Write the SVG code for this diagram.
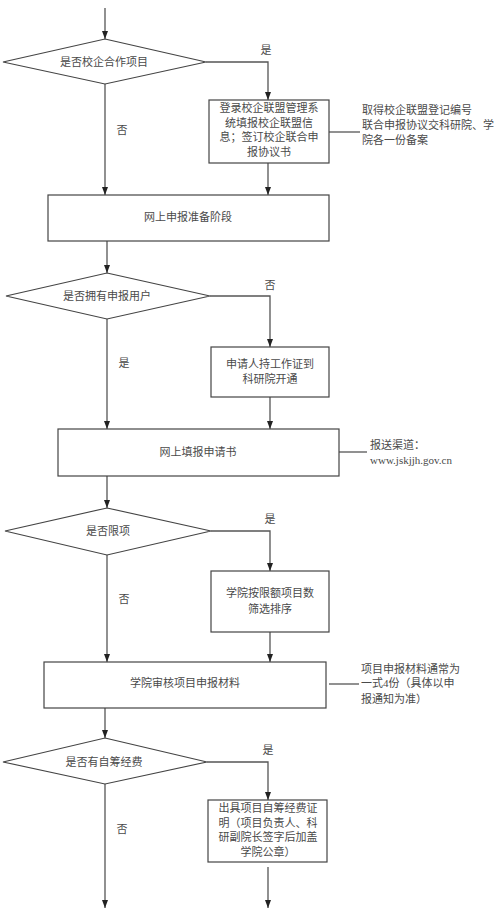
<svg xmlns="http://www.w3.org/2000/svg" width="502" height="920" viewBox="0 0 502 920">
<style>
.shape{fill:#fff;stroke:#444;stroke-width:1.2}
.conn{fill:none;stroke:#555;stroke-width:1.3}
text{font-family:"Liberation Serif","Noto Sans CJK SC",serif;font-size:11px;fill:#4a4a4a}
.c{text-anchor:middle}
</style>
<defs>
<marker id="arr" markerUnits="userSpaceOnUse" markerWidth="8" markerHeight="8" viewBox="0 0 8 8" refX="8" refY="4" orient="auto">
<path d="M0,1 L8,4 L0,7 Z" fill="#222"/>
</marker>
</defs>
<rect width="502" height="920" fill="#fff"/>
<g id="connectors">
<line class="conn" x1="105" y1="8" x2="105" y2="39" marker-end="url(#arr)"/>
<polyline class="conn" points="206,62 268,62 268,100" marker-end="url(#arr)"/>
<line class="conn" x1="105" y1="84" x2="105" y2="195" marker-end="url(#arr)"/>
<line class="conn" x1="268" y1="163" x2="268" y2="195" marker-end="url(#arr)"/>
<line class="conn" x1="329" y1="132" x2="360" y2="132"/>
<line class="conn" x1="107" y1="241" x2="107" y2="273" marker-end="url(#arr)"/>
<polyline class="conn" points="210,296 270,296 270,347" marker-end="url(#arr)"/>
<line class="conn" x1="107" y1="319" x2="107" y2="429" marker-end="url(#arr)"/>
<line class="conn" x1="270" y1="397" x2="270" y2="429" marker-end="url(#arr)"/>
<line class="conn" x1="339" y1="452" x2="367" y2="452"/>
<line class="conn" x1="107" y1="476" x2="107" y2="508" marker-end="url(#arr)"/>
<polyline class="conn" points="211,531 270,531 270,571" marker-end="url(#arr)"/>
<line class="conn" x1="107" y1="555" x2="107" y2="662" marker-end="url(#arr)"/>
<line class="conn" x1="270" y1="632" x2="270" y2="662" marker-end="url(#arr)"/>
<line class="conn" x1="329" y1="684" x2="359" y2="684"/>
<line class="conn" x1="105" y1="708" x2="105" y2="738" marker-end="url(#arr)"/>
<polyline class="conn" points="207,762 268,762 268,800" marker-end="url(#arr)"/>
<line class="conn" x1="105" y1="784" x2="105" y2="908" marker-end="url(#arr)"/>
<line class="conn" x1="268" y1="867" x2="268" y2="908" marker-end="url(#arr)"/>
<text x="266" y="54" class="c">是</text>
<text x="122" y="134" class="c">否</text>
<text x="270" y="289" class="c">否</text>
<text x="124" y="367" class="c">是</text>
<text x="270" y="523" class="c">是</text>
<text x="124" y="603" class="c">否</text>
<text x="268" y="754" class="c">是</text>
<text x="122" y="833" class="c">否</text>
</g>
<g id="d1">
<polygon class="shape" points="105,39 206,62 105,84 3,62"/>
<text x="104" y="66" class="c">是否校企合作项目</text>
</g>
<g id="b1">
<rect class="shape" x="209" y="100" width="120" height="63"/>
<text x="269" y="112" class="c">登录校企联盟管理系</text>
<text x="269" y="127" class="c">统填报校企联盟信</text>
<text x="269" y="141" class="c">息；签订校企联合申</text>
<text x="269" y="156" class="c">报协议书</text>
</g>
<g id="n1">
<text x="362" y="114">取得校企联盟登记编号</text>
<text x="362" y="129">联合申报协议交科研院、学</text>
<text x="362" y="144">院各一份备案</text>
</g>
<g id="b2">
<rect class="shape" x="48" y="195" width="281" height="46"/>
<text x="188" y="221" class="c">网上申报准备阶段</text>
</g>
<g id="d2">
<polygon class="shape" points="107,273 210,296 107,319 6,296"/>
<text x="107" y="300" class="c">是否拥有申报用户</text>
</g>
<g id="b3">
<rect class="shape" x="211" y="347" width="118" height="50"/>
<text x="270" y="368" class="c">申请人持工作证到</text>
<text x="270" y="383" class="c">科研院开通</text>
</g>
<g id="b4">
<rect class="shape" x="58" y="429" width="281" height="47"/>
<text x="198" y="456" class="c">网上填报申请书</text>
</g>
<g id="n2">
<text x="370" y="449">报送渠道：</text>
<text x="370" y="464">www.jskjjh.gov.cn</text>
</g>
<g id="d3">
<polygon class="shape" points="107,508 211,531 107,555 5,531"/>
<text x="108" y="535" class="c">是否限项</text>
</g>
<g id="b5">
<rect class="shape" x="211" y="571" width="118" height="61"/>
<text x="270" y="597" class="c">学院按限额项目数</text>
<text x="270" y="613" class="c">筛选排序</text>
</g>
<g id="b6">
<rect class="shape" x="44" y="662" width="282" height="46"/>
<text x="185" y="687" class="c">学院审核项目申报材料</text>
</g>
<g id="n3">
<text x="361" y="673">项目申报材料通常为</text>
<text x="361" y="687">一式4份（具体以申</text>
<text x="361" y="703">报通知为准）</text>
</g>
<g id="d4">
<polygon class="shape" points="105,738 207,762 105,784 3,762"/>
<text x="104" y="766" class="c">是否有自筹经费</text>
</g>
<g id="b7">
<rect class="shape" x="208" y="800" width="119" height="62"/>
<text x="268" y="812" class="c">出具项目自筹经费证</text>
<text x="268" y="827" class="c">明（项目负责人、科</text>
<text x="268" y="841" class="c">研副院长签字后加盖</text>
<text x="268" y="856" class="c">学院公章）</text>
</g>
</svg>
